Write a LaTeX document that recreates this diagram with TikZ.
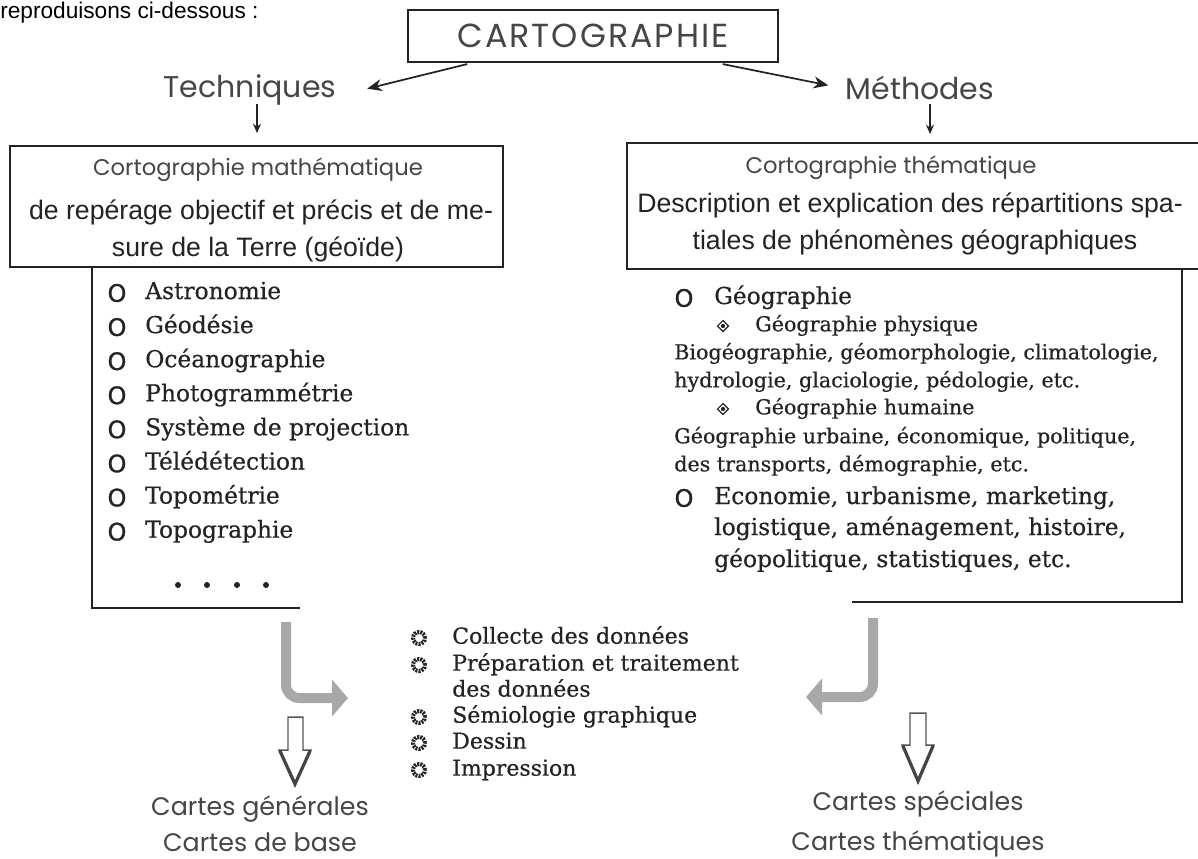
\documentclass[tikz,border=0pt]{standalone}
\usepackage{fontspec}
\usetikzlibrary{arrows.meta,shapes.geometric}
\newfontfamily\geofont{Poppins}
\newfontfamily\geowide{Poppins}[LetterSpace=6]
\newfontfamily\arialfont{Liberation Sans}
\newfontfamily\slabfont{DejaVu Serif}[FakeBold=0.5]
\newfontfamily\bulfont{DejaVu Sans}[FakeBold=1.2]
\definecolor{ink}{RGB}{35,35,35}
\definecolor{geoink}{RGB}{70,70,70}
\definecolor{arrgray}{RGB}{168,168,168}
\definecolor{hollowink}{RGB}{85,85,85}
\tikzset{
 frame/.style={draw=ink, line width=1.1pt},
 geo/.style={font=\geofont\fontsize{#1}{#1}\selectfont, text=geoink, inner sep=0pt},
 sans/.style={font=\arialfont\fontsize{20}{20}\selectfont, text=ink, inner sep=0pt, anchor=base},
 introtext/.style={font=\arialfont\fontsize{17}{17}\selectfont, text=black, inner sep=0pt, anchor=base west},
 item/.style={font=\slabfont\fontsize{17.5}{20}\selectfont, text=ink, inner sep=0pt, anchor=west, text height=13pt, text depth=4pt},
 subitem/.style={font=\slabfont\fontsize{15.5}{18}\selectfont, text=ink, inner sep=0pt, anchor=west, text height=11.5pt, text depth=3.5pt},
 miditem/.style={font=\slabfont\fontsize{16.5}{18}\selectfont, text=ink, inner sep=0pt, anchor=west, text height=12pt, text depth=3.5pt},
 obul/.style={font=\bulfont\fontsize{18}{18}\selectfont, text=ink, inner sep=0pt},
 dbul/.style={diamond, draw=ink, line width=0.9pt, inner sep=0pt, minimum size=8.5pt},
 gbul/.style={circle, draw=ink, line width=3pt, dash pattern=on 1.5pt off 0.8pt, inner sep=0pt, minimum size=9pt},
 dotb/.style={circle, fill=ink, inner sep=0pt, minimum size=4.5pt},
 blkarrow/.style={draw=ink, line width=1.3pt, -{Stealth[length=11pt,width=9pt]}},
 smallarrow/.style={draw=ink, line width=1pt, -{Stealth[length=7pt,width=6pt]}},
 grayarrow/.style={draw=arrgray, line width=7.5pt, rounded corners=10pt, -{Triangle[length=12pt,width=27pt]}},
 hollowarrow/.style={draw=hollowink, line width=1.1pt, fill=white, line join=miter},
 hollowhead/.style={draw=hollowink!80!black, line width=2.4pt, line cap=round},
}
\begin{document}
\begin{tikzpicture}[x=0.75pt,y=-0.75pt]
\useasboundingbox (0,0) rectangle (1198,858);
\fill[white] (0,0) rectangle (1198,858);

% line of text at the top
\node[introtext] (intro) at (0,18) {reproduisons ci-dessous :};

% title
\node[frame, minimum width=277.5pt, minimum height=39pt, inner sep=0pt,
      font=\geowide\fontsize{25}{25}\selectfont, text=geoink] (carto) at (593,36) {CARTOGRAPHIE};

\node[geo=22.5] (tech) at (250,90) {Techniques};
\node[geo=22.5] (meth) at (920,88) {Méthodes};

\draw[blkarrow] ([xshift=45pt,yshift=-1pt]carto.south west) -- ([xshift=23pt,yshift=1pt]tech.east);
\draw[blkarrow] ([xshift=-42pt,yshift=-1pt]carto.south east) -- ([xshift=-13pt,yshift=2pt]meth.west);

\coordinate (td1) at (257,104); \coordinate (td2) at (257,133);
\coordinate (md1) at (930,104); \coordinate (md2) at (930,134);
\draw[smallarrow] (td1) -- (td2);
\draw[smallarrow] (md1) -- (md2);

% left box
\node[frame, minimum width=369.75pt, minimum height=90.75pt, inner sep=0pt] (lbox) at (256.5,206.5) {};
\node[geo=17, anchor=base] (lbox1) at (258,175) {Cortographie mathématique};
\node[sans] (lbox2) at (261,219) {de repérage objectif et précis et de me-};
\node[sans] (lbox3) at (258,256) {sure de la Terre (géoïde)};

% right box
\node[frame, minimum width=441pt, minimum height=94.5pt, inner sep=0pt] (rbox) at (921,206) {};
\node[geo=17, anchor=base] (rbox1) at (891,173) {Cortographie thématique};
\node[sans] (rbox2) at (910,212) {Description et explication des répartitions spa-};
\node[sans] (rbox3) at (915,249) {tiales de phénomènes géographiques};

% brackets under the boxes
\coordinate (lbr) at (92,608); \coordinate (lbr2) at (300,608);
\draw[frame] (lbox.south -| lbr) -- (lbr) -- (lbr2);
\coordinate (rbr) at (1182,602); \coordinate (rbr2) at (852,602);
\draw[frame] (rbox.south -| rbr) -- (rbr) -- (rbr2);

% left list
\foreach \t [count=\i] in {Astronomie, Géodésie, Océanographie, Photogrammétrie, Système de projection, Télédétection, Topométrie, Topographie}{
  \node[obul] (lb\i) at (117,{293+34.1*(\i-1)}) {O};
  \node[item] (lt\i) at (145,{293+34.1*(\i-1)}) {\t};
}
\node[dotb] (dot1) at (178,585) {};
\node[dotb] (dot2) at (207,585) {};
\node[dotb] (dot3) at (237,585) {};
\node[dotb] (dot4) at (266,585) {};

% right list
\node[obul] (rb1) at (684,298) {O};
\node[item] (rt1) at (714,298) {Géographie};
\node[dbul] (rd1) at (723,326) {}; \fill[ink] (rd1.center) circle (1.6pt);
\node[subitem] (rs1) at (755,326) {Géographie physique};
\node[subitem] (rs2) at (674,354) {Biogéographie, géomorphologie, climatologie,};
\node[subitem] (rs3) at (674,382) {hydrologie, glaciologie, pédologie, etc.};
\node[dbul] (rd2) at (723,409) {}; \fill[ink] (rd2.center) circle (1.6pt);
\node[subitem] (rs4) at (755,409) {Géographie humaine};
\node[subitem] (rs5) at (674,438) {Géographie urbaine, économique, politique,};
\node[subitem] (rs6) at (674,466) {des transports, démographie, etc.};
\node[obul] (rb2) at (684,498) {O};
\node[item] (rt2) at (714,498) {Economie, urbanisme, marketing,};
\node[item] (rt3) at (714,529) {logistique, aménagement, histoire,};
\node[item] (rt4) at (714,561) {géopolitique, statistiques, etc.};

% middle list
\node[gbul] (mb1) at (419,638) {};
\node[miditem] (mt1) at (452,638) {Collecte des données};
\node[gbul] (mb2) at (419,665) {};
\node[miditem] (mt2) at (452,665) {Préparation et traitement};
\node[miditem] (mt2b) at (452,691) {des données};
\node[gbul] (mb3) at (419,717) {};
\node[miditem] (mt3) at (452,717) {Sémiologie graphique};
\node[gbul] (mb4) at (419,743) {};
\node[miditem] (mt4) at (452,743) {Dessin};
\node[gbul] (mb5) at (419,770) {};
\node[miditem] (mt5) at (452,770) {Impression};

% grey bent arrows
\coordinate (ga1) at (286,622); \coordinate (ga2) at (286,698); \coordinate (ga3) at (348,698);
\draw[grayarrow] (ga1) -- (ga2) -- (ga3);
\coordinate (gb1) at (873,618); \coordinate (gb2) at (873,697); \coordinate (gb3) at (806,697);
\draw[grayarrow] (gb1) -- (gb2) -- (gb3);

% hollow down arrows
\path[hollowarrow] (288,717) -- (303,717) -- (303,750) -- (311,750) -- (295,785) -- (279,750) -- (288,750) -- cycle;
\draw[hollowhead] (280,751) -- (295,784) -- (310,751);
\path[hollowarrow] (910,713) -- (926,713) -- (926,745) -- (934,745) -- (918,782) -- (902,745) -- (910,745) -- cycle;
\draw[hollowhead] (903,746) -- (918,781) -- (933,746);

% bottom labels
\node[geo=19, anchor=base] (cg1) at (260,815) {Cartes générales};
\node[geo=19, anchor=base] (cg2) at (260,851) {Cartes de base};
\node[geo=19, anchor=base] (cs1) at (918,810) {Cartes spéciales};
\node[geo=19, anchor=base] (cs2) at (918,850) {Cartes thématiques};
\end{tikzpicture}
\end{document}
